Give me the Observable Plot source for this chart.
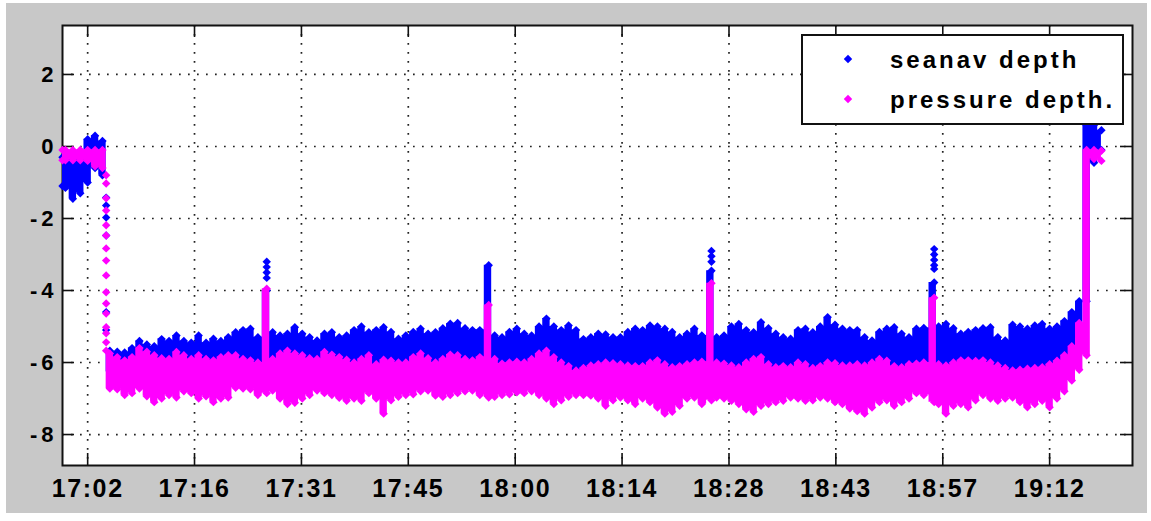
<!DOCTYPE html>
<html>
<head>
<meta charset="utf-8">
<script src="https://cdn.jsdelivr.net/npm/d3@7"></script>
<script src="https://cdn.jsdelivr.net/npm/@observablehq/plot@0.6"></script>
<style>
  html, body { margin: 0; padding: 0; background: #ffffff; width: 1151px; height: 521px; overflow: hidden; }
  #wrap { position: absolute; left: 6px; top: 3px; width: 1141px; height: 510px; background: #c8c8c8; }
  #chart svg { display: block; }
  #legend { position: absolute; left: 0; top: 0; pointer-events: none; }
</style>
</head>
<body>
<div id="wrap"><div id="chart"></div></div>
<svg id="legend" width="1151" height="521"></svg>
<script>
// ---- data (time in minutes after midnight, depth in metres) ----
const times = [
  1018.6, 1019, 1020, 1021, 1022, 1023, 1024,
  1025, 1026, 1027, 1028, 1029, 1030, 1031, 1032, 1033, 1034,
  1035, 1036, 1037, 1038, 1039, 1040, 1041, 1042, 1043, 1044,
  1045, 1046.2, 1047, 1048, 1049, 1050, 1051, 1052, 1053, 1054,
  1055, 1056, 1057, 1058, 1059, 1060, 1061, 1062, 1063, 1064,
  1065, 1066, 1067, 1068, 1069, 1070, 1071, 1072, 1073, 1074,
  1075, 1076.2, 1077, 1078, 1079, 1080, 1081, 1082, 1083, 1084,
  1085, 1086, 1087, 1088, 1089, 1090, 1091, 1092, 1093, 1094,
  1095, 1096, 1097, 1098, 1099, 1100, 1101, 1102, 1103, 1104,
  1105, 1106.3, 1107, 1108, 1109, 1110, 1111, 1112, 1113, 1114,
  1115, 1116, 1117, 1118, 1119, 1120, 1121, 1122, 1123, 1124,
  1125, 1126, 1127, 1128, 1129, 1130, 1131, 1132, 1133, 1134,
  1135, 1136.4, 1137, 1138, 1139, 1140, 1141, 1142, 1143, 1144,
  1145, 1146, 1147, 1148, 1149, 1150, 1151, 1152, 1153, 1154,
  1155, 1156, 1157, 1158, 1159
];

// seanav depth: upper and lower edge of the point cloud
const seanavHi = [
  -0.3, -0.3, -0.3, -0.3, 0.2, 0.3, 0.15,
  -5.67, -5.7, -5.72, -5.6, -5.4, -5.5, -5.55, -5.35, -5.4, -5.25,
  -5.4, -5.45, -5.25, -5.45, -5.34, -5.4, -5.3, -5.16, -5.1, -5.06,
  -5.3, -4.0, -5.16, -5.25, -5.2, -5.02, -5.2, -5.3, -5.39, -5.2,
  -5.16, -5.3, -5.25, -5.1, -5.0, -5.16, -5.1, -5.02, -5.15, -5.34,
  -5.25, -5.15, -5.06, -5.2, -5.16, -5.05, -4.92, -4.9, -5.05, -5.1,
  -5.1, -3.3, -5.25, -5.3, -5.15, -5.06, -5.2, -5.25, -5.0, -4.78,
  -5.0, -5.1, -4.97, -5.1, -5.35, -5.3, -5.2, -5.22, -5.3, -5.3,
  -5.15, -5.06, -5.1, -4.97, -5.0, -5.06, -5.15, -5.3, -5.2, -5.06,
  -5.25, -3.45, -5.3, -5.25, -5.0, -4.93, -5.1, -5.16, -4.88, -5.05,
  -5.2, -5.3, -5.34, -5.1, -5.06, -5.16, -5.0, -4.74, -4.95, -5.06,
  -5.1, -5.1, -5.3, -5.39, -5.15, -5.06, -5.02, -5.2, -5.3, -5.06,
  -5.04, -3.78, -5.0, -4.93, -5.05, -5.2, -5.15, -5.1, -5.05, -5.02,
  -5.3, -5.39, -4.95, -5.0, -5.06, -4.97, -4.93, -5.06, -5.0, -4.85,
  -4.6, -4.3, 0.58, 0.6, 0.45
];
const seanavLo = [
  -1.1, -1.15, -1.45, -1.3, -1.0, -0.6, -0.8,
  -6.25, -6.3, -6.3, -6.25, -6.2, -6.25, -6.3, -6.3, -6.25, -6.2,
  -6.25, -6.3, -6.25, -6.3, -6.3, -6.25, -6.2, -6.2, -6.25, -6.3,
  -6.3, -6.3, -6.25, -6.2, -6.15, -6.2, -6.25, -6.3, -6.3, -6.2,
  -6.25, -6.3, -6.3, -6.35, -6.3, -6.25, -6.35, -6.3, -6.3, -6.35,
  -6.3, -6.25, -6.2, -6.25, -6.3, -6.3, -6.2, -6.25, -6.3, -6.3,
  -6.25, -6.3, -6.3, -6.35, -6.3, -6.3, -6.35, -6.3, -6.2, -6.15,
  -6.25, -6.35, -6.4, -6.45, -6.4, -6.35, -6.3, -6.3, -6.35, -6.35,
  -6.35, -6.4, -6.4, -6.3, -6.25, -6.3, -6.4, -6.4, -6.35, -6.3,
  -6.3, -6.3, -6.3, -6.3, -6.35, -6.4, -6.3, -6.2, -6.15, -6.3,
  -6.4, -6.35, -6.4, -6.3, -6.3, -6.4, -6.35, -6.3, -6.3, -6.35,
  -6.35, -6.3, -6.35, -6.3, -6.2, -6.25, -6.35, -6.4, -6.3, -6.3,
  -6.3, -6.35, -6.3, -6.35, -6.3, -6.25, -6.25, -6.25, -6.25, -6.3,
  -6.35, -6.4, -6.45, -6.45, -6.4, -6.4, -6.35, -6.3, -6.2, -6.0,
  -5.8, -5.3, -4.3, -0.45, -0.1
];

// pressure depth: upper and lower edge of the point cloud
const pressureHi = [
  -0.1, -0.1, -0.1, -0.1, -0.1, -0.1, -0.1,
  -5.75, -5.85, -5.94, -5.85, -5.6, -5.7, -5.8, -5.88, -5.9, -5.71,
  -5.8, -5.9, -5.8, -5.9, -5.94, -5.85, -5.8, -5.8, -5.9, -5.94,
  -6.0, -3.95, -5.9, -5.75, -5.67, -5.75, -5.8, -5.88, -5.9, -5.71,
  -5.78, -5.85, -5.92, -6.0, -5.9, -5.8, -6.05, -5.92, -5.95, -6.0,
  -6.0, -5.85, -5.75, -5.88, -6.0, -5.9, -5.78, -5.8, -5.9, -5.94,
  -5.85, -4.4, -5.9, -6.03, -6.0, -5.98, -6.0, -5.9, -5.75, -5.67,
  -5.85, -6.0, -6.1, -6.22, -6.15, -6.08, -6.05, -6.0, -6.02, -6.05,
  -6.08, -6.1, -6.1, -6.0, -5.94, -6.05, -6.13, -6.1, -6.05, -6.0,
  -5.98, -3.8, -6.0, -6.03, -6.08, -6.13, -6.0, -5.9, -5.85, -6.05,
  -6.13, -6.1, -6.13, -6.0, -6.05, -6.15, -6.1, -6.0, -6.02, -6.08,
  -6.08, -6.05, -6.08, -6.0, -5.9, -5.95, -6.1, -6.13, -6.05, -6.03,
  -6.0, -4.2, -6.05, -6.08, -6.0, -5.94, -5.94, -5.96, -5.94, -6.0,
  -6.08, -6.15, -6.22, -6.2, -6.17, -6.15, -6.13, -6.05, -5.95, -5.8,
  -5.55, -4.9, -0.1, -0.1, -0.12
];
const pressureLo = [
  -0.38, -0.38, -0.38, -0.38, -0.4, -0.55, -0.6,
  -6.72, -6.74, -6.9, -6.85, -6.72, -6.94, -7.1, -7.0, -6.9, -6.97,
  -6.8, -6.85, -7.0, -6.94, -7.1, -7.0, -6.97, -6.7, -6.72, -6.74,
  -6.9, -6.85, -6.78, -7.0, -7.15, -7.12, -7.0, -6.9, -6.78, -6.85,
  -6.9, -6.98, -7.06, -7.0, -7.06, -6.85, -7.0, -7.42, -7.05, -6.95,
  -6.9, -6.88, -6.8, -6.78, -6.92, -6.95, -6.9, -6.85, -6.8, -6.78,
  -6.9, -6.97, -6.95, -6.9, -6.88, -6.83, -6.85, -6.8, -6.9, -7.0,
  -7.15, -7.05, -6.95, -6.9, -6.9, -6.92, -7.0, -7.2, -7.05, -6.97,
  -7.05, -7.15, -7.0, -7.1, -7.25, -7.42, -7.37, -7.2, -7.0, -6.97,
  -7.15, -7.05, -6.97, -7.0, -7.06, -7.15, -7.3, -7.37, -7.2, -7.15,
  -7.1, -7.06, -6.97, -7.0, -7.06, -7.05, -6.97, -7.0, -7.1, -7.15,
  -7.28, -7.35, -7.42, -7.25, -7.1, -7.05, -7.2, -7.1, -7.0, -6.85,
  -6.9, -7.1, -7.15, -7.42, -7.2, -7.15, -7.24, -7.05, -6.9, -7.0,
  -7.06, -7.0, -6.97, -7.1, -7.24, -7.15, -7.06, -7.24, -7.0, -6.8,
  -6.5, -6.2, -5.8, -0.35, -0.4
];

// isolated points (descent at the start and detached spike tops)
const seanavDotTime  = [1024.5, 1024.5, 1024.5, 1024.5, 1024.5, 1024.5,
                        1046.2, 1046.2, 1046.2, 1046.2,
                        1106.3, 1106.3, 1106.3,
                        1136.4, 1136.4, 1136.4, 1136.4, 1136.4];
const seanavDotDepth = [-1.42, -1.64, -1.97, -2.47, -4.6, -5.1,
                        -3.2, -3.35, -3.5, -3.65,
                        -2.9, -3.05, -3.2,
                        -2.85, -3.0, -3.15, -3.3, -3.4];
const pressureDotTime  = [1024.5, 1024.5, 1024.5, 1024.5, 1024.5, 1024.5, 1024.5, 1024.5,
                          1024.5, 1024.5, 1024.5, 1024.5, 1024.5, 1024.5, 1024.5, 1024.5];
const pressureDotDepth = [-0.8, -1.03, -1.44, -1.78, -2.19, -2.47, -2.83, -3.17,
                          -3.58, -4.05, -4.36, -4.64, -5.02, -5.19, -5.44, -5.67];

// axes
const xTicks = [1022, 1036.44, 1050.89, 1065.33, 1079.78, 1094.22, 1108.67, 1123.11, 1137.56, 1152];
const xTickLabels = ["17:02", "17:16", "17:31", "17:45", "18:00", "18:14", "18:28", "18:43", "18:57", "19:12"];
const yTicks = [-8, -6, -4, -2, 0, 2];
const xDomain = [1018.6, 1163.2];
const yDomain = [-8.86, 3.36];
const seriesNames = ["seanav depth", "pressure depth."];
const seriesColors = ["#0000ff", "#ff00ff"];

// ---- build ----
const seanavRows = times.map((t, i) => ({t, hi: seanavHi[i], lo: seanavLo[i]}));
const pressureRows = times.map((t, i) => ({t, hi: pressureHi[i], lo: pressureLo[i]}));
const seanavDots = seanavDotTime.map((t, i) => ({t, v: seanavDotDepth[i]}));
const pressureDots = pressureDotTime.map((t, i) => ({t, v: pressureDotDepth[i]}));
const tickLabel = new Map(xTicks.map((d, i) => [d, xTickLabels[i]]));

const W = 1141, H = 510, mL = 56, mT = 22, mR = 15, mB = 48;
const innerW = W - mL - mR, innerH = H - mT - mB;
const TL = 12; // inward tick length
const BLUE = seriesColors[0], PINK = seriesColors[1];
const dotOpts = {symbol: "diamond2", r: 3.8};
const FONT = "'Liberation Sans', Arial, Helvetica, sans-serif";

function cloud(rows, dots, color) {
  return [
    Plot.areaY(rows, {x: "t", y1: "lo", y2: "hi", curve: "step", fill: color}),
    Plot.dot(rows, {x: "t", y: "hi", fill: color, ...dotOpts}),
    Plot.dot(rows, {x: "t", y: "lo", fill: color, ...dotOpts}),
    Plot.dot(dots, {x: "t", y: "v", fill: color, ...dotOpts})
  ];
}

const chart = Plot.plot({
  width: W, height: H,
  marginLeft: mL, marginTop: mT, marginRight: mR, marginBottom: mB,
  style: {background: "transparent", fontFamily: FONT, color: "#000", overflow: "visible"},
  x: {domain: xDomain},
  y: {domain: yDomain},
  marks: [
    Plot.frame({fill: "white", stroke: "white"}),
    Plot.gridX(xTicks, {stroke: "#222", strokeOpacity: 1, strokeWidth: 1.7, strokeDasharray: "1.7,7.3"}),
    Plot.gridY(yTicks, {stroke: "#222", strokeOpacity: 1, strokeWidth: 1.7, strokeDasharray: "1.7,7.3"}),
    Plot.frame({stroke: "#111", strokeWidth: 2}),
    Plot.ruleX(xTicks, {insetTop: innerH - TL, stroke: "#111", strokeWidth: 1.6}),
    Plot.ruleX(xTicks, {insetBottom: innerH - TL, stroke: "#111", strokeWidth: 1.6}),
    Plot.ruleY(yTicks, {insetRight: innerW - TL, stroke: "#111", strokeWidth: 1.6}),
    Plot.ruleY(yTicks, {insetLeft: innerW - TL, stroke: "#111", strokeWidth: 1.6}),
    ...cloud(seanavRows, seanavDots, BLUE),
    ...cloud(pressureRows, pressureDots, PINK),
    Plot.axisX(xTicks, {tickFormat: d => tickLabel.get(d), tickSize: 0, tickPadding: 14, label: null}),
    Plot.axisY(yTicks, {tickFormat: d => (d < 0 ? "-" + (-d) : String(d)), tickSize: 0, tickPadding: 5, label: null})
  ]
});
document.getElementById("chart").appendChild(chart);

// tick label typography (inline styles + attributes on the axis text elements)
const svgNode = chart.tagName.toLowerCase() === "svg" ? chart : chart.querySelector("svg");
d3.select(svgNode).selectAll("g[aria-label^='x-axis'] text")
  .attr("letter-spacing", "1.6px")
  .style("font-size", "25px").style("font-weight", "bold").style("letter-spacing", "1.6px");
d3.select(svgNode).selectAll("g[aria-label^='y-axis'] text")
  .attr("letter-spacing", "4px")
  .style("font-size", "22px").style("font-weight", "bold").style("letter-spacing", "4px");

// ---- legend (box inside the axes, top right) ----
const lg = d3.select("#legend");
lg.append("rect").attr("x", 802).attr("y", 35).attr("width", 321).attr("height", 89)
  .attr("fill", "white").attr("stroke", "#111").attr("stroke-width", 2);
const sym = d3.symbol(d3.symbolDiamond2, Math.PI * 3.8 * 3.8)();
seriesNames.forEach((name, i) => {
  const cy = 59 + i * 40;
  lg.append("path").attr("d", sym).attr("transform", `translate(848,${cy})`).attr("fill", seriesColors[i]);
  lg.append("text").attr("x", 890).attr("y", cy + 9)
    .attr("font-family", FONT).attr("font-weight", "bold")
    .attr("font-size", 24).attr("letter-spacing", "3px").attr("fill", "#000")
    .text(name);
});
</script>
</body>
</html>
